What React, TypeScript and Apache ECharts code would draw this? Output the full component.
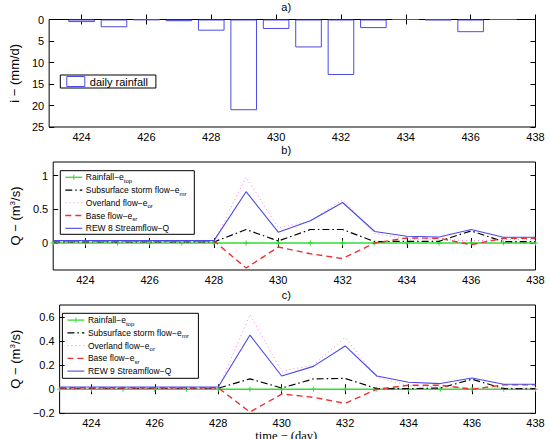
import React, { useEffect, useRef } from 'react';
import * as echarts from 'echarts';

// ---- data ----
const rainDays = [424, 425, 426, 427, 428, 429, 430, 431, 432, 433, 434, 435, 436, 437];
const dailyRainfall = [0.6, 1.8, 0.1, 0.4, 2.6, 21.1, 2.2, 6.5, 12.9, 2.0, 0, 0.15, 2.95, 0];

const days = [423, 424, 425, 426, 427, 428, 429, 430, 431, 432, 433, 434, 435, 436, 437, 438];

const rain8 = [0, 0, 0, 0, 0, 0, 0, 0, 0, 0, 0, 0, 0, 0, 0, 0];
const sub8 = [0.015, 0.015, 0.015, 0.015, 0.015, 0.015, 0.2, 0.03, 0.2, 0.2, 0.02, 0.025, 0.025, 0.18, 0.02, 0.02];
const over8 = [0.01, 0.01, 0.01, 0.01, 0.01, 0.01, 0.98, 0.22, 0.33, 0.64, 0.14, 0.06, 0.06, 0.03, 0.05, 0.05];
const base8 = [0.03, 0.03, 0.03, 0.03, 0.03, 0.03, -0.37, -0.06, -0.16, -0.23, 0, 0.075, 0.07, -0.025, 0.07, 0.07];
const q8 = [0.035, 0.035, 0.035, 0.035, 0.035, 0.035, 0.76, 0.16, 0.33, 0.6, 0.17, 0.1, 0.09, 0.2, 0.085, 0.085];

const rain9 = [0, 0, 0, 0, 0, 0, 0, 0, 0, 0, 0, 0, 0, 0, 0, 0];
const sub9 = [0.008, 0.008, 0.008, 0.008, 0.008, 0.008, 0.086, 0.01, 0.086, 0.09, 0.005, 0.005, 0.01, 0.083, 0.005, 0.005];
const over9 = [0.005, 0.005, 0.005, 0.005, 0.005, 0.005, 0.62, 0.15, 0.2, 0.43, 0.1, 0.03, 0.02, 0.01, 0.01, 0.01];
const base9 = [0.012, 0.012, 0.012, 0.012, 0.012, 0.012, -0.19, -0.04, -0.067, -0.117, 0, 0.033, 0.033, 0, 0.036, 0.036];
const q9 = [0.018, 0.018, 0.018, 0.018, 0.018, 0.018, 0.45, 0.11, 0.19, 0.36, 0.11, 0.058, 0.047, 0.094, 0.042, 0.042];

const xTicks = [424, 426, 428, 430, 432, 434, 436, 438];
const yTicksA = [0, 5, 10, 15, 20, 25];
const yTicksB = [0, 0.5, 1];
const yTicksC = [-0.2, 0, 0.2, 0.4, 0.6];

const panelTitles = ['a)', 'b)', 'c)'];
const xAxisTitle = 'time − (day)';

const NAMES = {
  rain: 'Rainfall-e_top',
  sub: 'Subsurface storm flow-e_mr',
  over: 'Overland flow-e_or',
  base: 'Base flow-e_sr',
  q8: 'REW 8 Streamflow-Q',
  q9: 'REW 9 Streamflow-Q',
  bars: 'daily rainfall',
};

const legendText: Record<string, string> = {
  [NAMES.rain]: '{n|Rainfall−e}{s|top}',
  [NAMES.sub]: '{n|Subsurface storm flow−e}{s|mr}',
  [NAMES.over]: '{n|Overland flow−e}{s|or}',
  [NAMES.base]: '{n|Base flow−e}{s|sr}',
  [NAMES.q8]: '{n|REW 8 Streamflow−Q}',
  [NAMES.q9]: '{n|REW 9 Streamflow−Q}',
};

// ---- styling ----
const FONT = '"Liberation Sans", Arial, Helvetica, sans-serif';
const SERIF = '"Liberation Serif", "Times New Roman", serif';
const BLUE = '#4a4ae6';
const GREEN = '#33dd33';
const RED = '#ee3030';
const PINK = '#ff77ee';
const BLACK = '#000000';

const DASH_SUB = [7, 3, 1.5, 3];
const DASH_OVER = [1, 3];
const DASH_BASE = [6, 4];

const GL = 37;
const GW = 498.5;
const grids = [
  { top: 19.5, height: 107.5 },
  { top: 162, height: 108 },
  { top: 305, height: 108.3 },
];

function fmt(v: number) {
  if (v === 0) return '0';
  return String(v).replace('-', '−');
}

function xAxesFor(gi: number) {
  const common = {
    type: 'value',
    gridIndex: gi,
    min: 423,
    max: 438,
    axisLine: { show: false },
    splitLine: { show: false },
    axisTick: { inside: true, length: 5, lineStyle: { color: BLACK, width: 1 }, customValues: xTicks },
  };
  return [
    {
      ...common,
      position: 'bottom',
      axisLabel: { customValues: xTicks, fontSize: 11, color: BLACK, margin: 4, fontFamily: FONT },
    },
    { ...common, position: 'top', axisLabel: { show: false } },
  ];
}

function yAxesFor(gi: number, min: number, max: number, ticks: number[], name: string, inverse: boolean) {
  const common = {
    type: 'value',
    gridIndex: gi,
    min,
    max,
    inverse,
    axisLine: { show: false },
    splitLine: { show: false },
    axisTick: { inside: true, length: 5, lineStyle: { color: BLACK, width: 1 }, customValues: ticks },
  };
  return [
    {
      ...common,
      position: 'left',
      axisLabel: { customValues: ticks, fontSize: 11, color: BLACK, margin: 5, fontFamily: FONT, formatter: fmt },
      name,
      nameLocation: 'middle',
      nameGap: 16,
      nameTextStyle: {
        fontSize: 13,
        color: BLACK,
        fontFamily: FONT,
        rich: {
          sup: { fontSize: 8, fontFamily: FONT, color: BLACK, padding: [0, 0, 7, 0] },
        },
      },
    },
    { ...common, position: 'right', axisLabel: { show: false } },
  ];
}

function pair(vals: number[]) {
  return days.map((d, i) => [d, vals[i]]);
}

const plusSymbol = 'path://M4 0H6V4H10V6H6V10H4V6H0V4H4Z';

function flowSeries(gi: number, rain: number[], sub: number[], over: number[], base: number[], q: number[], qName: string) {
  const ax = { xAxisIndex: gi * 2, yAxisIndex: gi * 2 };
  return [
    {
      ...ax,
      type: 'line',
      name: NAMES.rain,
      data: pair(rain),
      symbol: plusSymbol,
      symbolSize: 5,
      showSymbol: true,
      itemStyle: { color: GREEN },
      lineStyle: { color: GREEN, width: 1.3 },
      z: 2,
    },
    {
      ...ax,
      type: 'line',
      name: NAMES.sub,
      data: pair(sub),
      symbol: 'none',
      itemStyle: { color: BLACK },
      lineStyle: { color: BLACK, width: 1.2, type: DASH_SUB },
      z: 3,
    },
    {
      ...ax,
      type: 'line',
      name: NAMES.over,
      data: pair(over),
      symbol: 'none',
      itemStyle: { color: PINK },
      lineStyle: { color: PINK, width: 1, type: DASH_OVER },
      z: 3,
    },
    {
      ...ax,
      type: 'line',
      name: NAMES.base,
      data: pair(base),
      symbol: 'none',
      itemStyle: { color: RED },
      lineStyle: { color: RED, width: 1.4, type: DASH_BASE },
      z: 4,
    },
    {
      ...ax,
      type: 'line',
      name: qName,
      data: pair(q),
      symbol: 'none',
      itemStyle: { color: BLUE },
      lineStyle: { color: BLUE, width: 1.1 },
      z: 5,
    },
  ];
}

// legend drawn as graphic elements (box, line samples, rich texts)
function flowLegendGraphic(L: number, T: number, W: number, H: number, firstY: number, step: number, qName: string) {
  const items = [
    { name: NAMES.rain, color: GREEN, dash: null as number[] | null, width: 1.3, plus: true },
    { name: NAMES.sub, color: BLACK, dash: DASH_SUB, width: 1.2, plus: false },
    { name: NAMES.over, color: PINK, dash: DASH_OVER, width: 1, plus: false },
    { name: NAMES.base, color: RED, dash: DASH_BASE, width: 1.4, plus: false },
    { name: qName, color: BLUE, dash: null, width: 1.1, plus: false },
  ];
  const children: any[] = [
    {
      type: 'rect',
      shape: { x: L, y: T, width: W, height: H },
      style: { fill: '#ffffff', stroke: BLACK, lineWidth: 1 },
    },
  ];
  items.forEach((it, i) => {
    const cy = T + firstY + i * step;
    const x1 = L + 5;
    const x2 = L + 22;
    children.push({
      type: 'line',
      shape: { x1, y1: cy, x2, y2: cy },
      style: { stroke: it.color, lineWidth: it.width, lineDash: it.dash || undefined },
    });
    if (it.plus) {
      const mx = (x1 + x2) / 2;
      children.push({
        type: 'line',
        shape: { x1: mx, y1: cy - 2.5, x2: mx, y2: cy + 2.5 },
        style: { stroke: it.color, lineWidth: 1 },
      });
    }
    children.push({
      type: 'text',
      x: L + 25.5,
      y: cy,
      style: {
        text: legendText[it.name],
        fill: BLACK,
        fontFamily: FONT,
        fontSize: 8.5,
        verticalAlign: 'middle',
        align: 'left',
        rich: {
          n: { fontSize: 8.5, fontFamily: FONT, fill: BLACK, lineHeight: 11 },
          s: { fontSize: 6, fontFamily: FONT, fill: BLACK, lineHeight: 7, padding: [7, 0, 0, 0] },
        },
      },
    });
  });
  return { type: 'group', z: 100, children };
}

export default function App() {
  const ref = useRef<HTMLDivElement>(null);
  useEffect(() => {
    if (!ref.current) return;
    const chart = echarts.init(ref.current, null, { renderer: 'svg' });
    const option = {
      animation: false,
      backgroundColor: '#ffffff',
      grid: grids.map((g) => ({
        left: GL,
        width: GW,
        top: g.top,
        height: g.height,
        show: true,
        borderColor: BLACK,
        borderWidth: 1,
        backgroundColor: '#ffffff',
        containLabel: false,
      })),
      xAxis: [...xAxesFor(0), ...xAxesFor(1), ...xAxesFor(2)],
      yAxis: [
        ...yAxesFor(0, 0, 25, yTicksA, 'i − (mm/d)', true),
        ...yAxesFor(1, -0.4, 1.2, yTicksB, 'Q − (m{sup|3}/s)', false),
        ...yAxesFor(2, -0.2, 0.7, yTicksC, 'Q − (m{sup|3}/s)', false),
      ],
      legend: [
        {
          orient: 'vertical',
          left: 60.3,
          top: 75,
          data: [
            {
              name: NAMES.bars,
              icon: 'rect',
              itemStyle: { color: '#ffffff', borderColor: BLUE, borderWidth: 1 },
            },
          ],
          selectedMode: false,
          itemWidth: 18,
          itemHeight: 10,
          padding: [1, 8, 1, 6],
          backgroundColor: '#ffffff',
          borderColor: BLACK,
          borderWidth: 1,
          textStyle: { color: BLACK, fontFamily: FONT, fontSize: 11 },
        },
      ],
      series: [
        {
          type: 'bar',
          name: NAMES.bars,
          xAxisIndex: 0,
          yAxisIndex: 0,
          data: rainDays.map((d, i) => [d, dailyRainfall[i]]),
          barWidth: 26.6,
          itemStyle: { color: '#ffffff', borderColor: BLUE, borderWidth: 1 },
        },
        ...flowSeries(1, rain8, sub8, over8, base8, q8, NAMES.q8),
        ...flowSeries(2, rain9, sub9, over9, base9, q9, NAMES.q9),
      ],
      graphic: [
        ...panelTitles.map((t, i) => ({
          type: 'text',
          x: GL + GW / 2,
          y: [7.3, 150, 295][i],
          style: {
            text: t,
            fontSize: 11,
            fontFamily: FONT,
            fill: BLACK,
            align: 'center',
            verticalAlign: 'middle',
          },
        })),
        {
          type: 'text',
          x: GL + GW / 2,
          y: 436,
          style: {
            text: xAxisTitle,
            fontSize: 12.5,
            fontFamily: SERIF,
            fill: BLACK,
            align: 'center',
            verticalAlign: 'middle',
          },
        },
        flowLegendGraphic(60.3, 170.7, 134, 63.6, 6.6, 12.75, NAMES.q8),
        flowLegendGraphic(62.4, 313.3, 136, 65, 6.8, 12.75, NAMES.q9),
      ],
    };
    chart.setOption(option as any);
    return () => chart.dispose();
  }, []);
  return (
    <div
      ref={ref}
      style={{ position: 'fixed', left: 0, top: 0, width: 550, height: 439, background: '#fff' }}
    />
  );
}
